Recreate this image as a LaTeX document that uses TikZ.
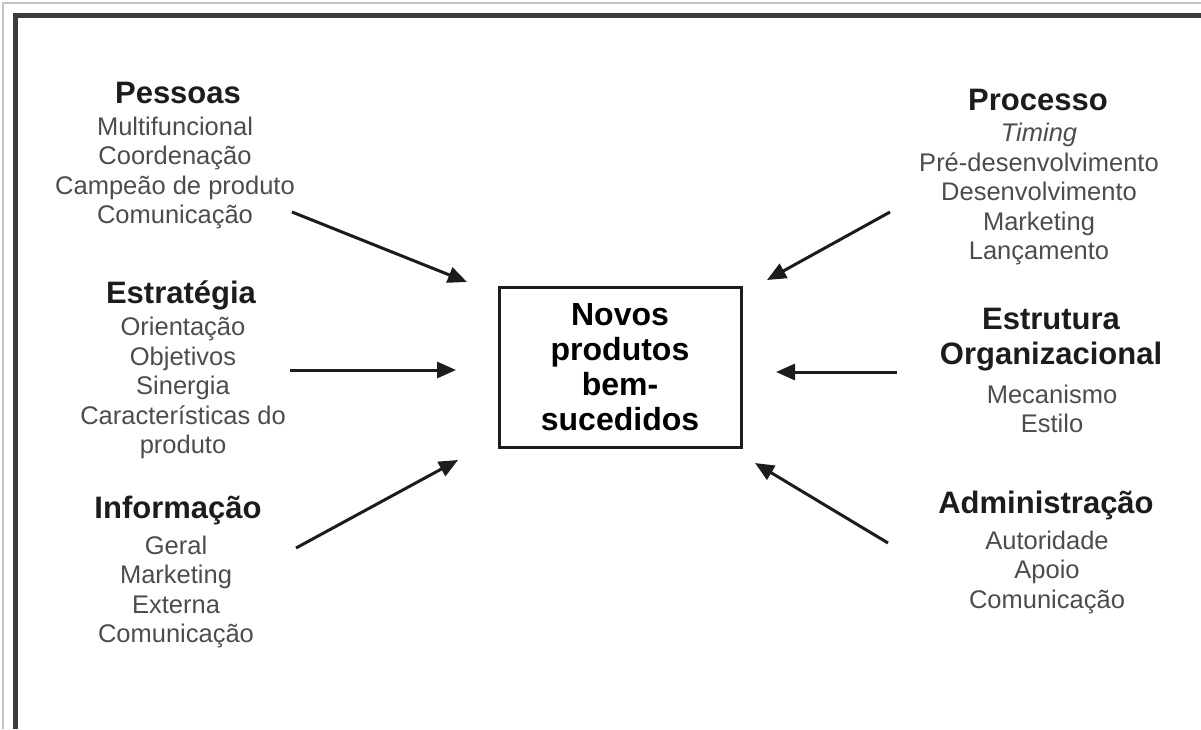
\documentclass[tikz,border=0pt]{standalone}
\usepackage{fontspec}
\setmainfont{Liberation Sans}
\usepackage{xcolor}
\usepackage{tikz}
\usetikzlibrary{arrows.meta}

\definecolor{inkgray}{HTML}{4C4C4C}
\definecolor{inkdark}{HTML}{1C1C1C}
\definecolor{framegray}{HTML}{C4C4C4}
\definecolor{framedark}{HTML}{3C3C3C}

\begin{document}
\begin{tikzpicture}[x=1pt, y=-1pt,
  head/.style={font=\fontsize{31}{35}\selectfont\bfseries, text=inkdark,
    align=center, inner sep=0pt},
  items/.style={font=\fontsize{25.5}{29.5}\selectfont, text=inkgray,
    align=center, inner sep=0pt},
  feed/.style={line width=3pt, draw=inkdark,
    -{Triangle[length=19pt, width=16pt]}}]
  \useasboundingbox (0,0) rectangle (1201,729);
  \draw [framegray, line width=1.2pt] (3,729) -- (3,3) -- (1201,3);
  \draw [framedark, line width=5pt] (15,729) -- (15,15) -- (1201,15);

  \node [draw=inkdark, line width=3pt, minimum width=242pt, minimum height=160pt,
    font=\fontsize{32}{35}\selectfont\bfseries, text=black, align=center]
    (goal) at (620,367) {Novos\\produtos\\bem-\\sucedidos};

  \node [head] (pes) at (178,93) {Pessoas};
  \node [items] (pesl) at (175,173) {Multifuncional\\Coordenação\\Campeão de produto\\Comunicação};
  \node [head] (est) at (181,295) {Estratégia};
  \node [items] (estl) at (183,388) {Orientação\\Objetivos\\Sinergia\\Características do\\produto};
  \node [head] (inf) at (178,510) {Informação};
  \node [items] (infl) at (176,592) {Geral\\Marketing\\Externa\\Comunicação};

  \node [head] (pro) at (1038,100) {Processo};
  \node [items] (prol) at (1039,194) {\textit{Timing}\\Pré-desenvolvimento\\Desenvolvimento\\Marketing\\Lançamento};
  \node [head] (org) at (1051,340) {Estrutura\\Organizacional};
  \node [items] (orgl) at (1052,409) {Mecanismo\\Estilo};
  \node [head] (adm) at (1046,505) {Administração};
  \node [items] (adml) at (1047,572) {Autoridade\\Apoio\\Comunicação};

  \coordinate (pes-s) at (292,212);  \coordinate (pes-e) at (467,282);
  \coordinate (est-s) at (290,370);  \coordinate (est-e) at (456,370);
  \coordinate (inf-s) at (296,548);  \coordinate (inf-e) at (458,460);
  \coordinate (pro-s) at (890,212);  \coordinate (pro-e) at (767,280);
  \coordinate (org-s) at (897,372);  \coordinate (org-e) at (776,372);
  \coordinate (adm-s) at (888,543);  \coordinate (adm-e) at (755,463);

  \foreach \g in {pes, est, inf, pro, org, adm}
    \draw [feed] (\g-s) -- (\g-e);
\end{tikzpicture}
\end{document}
